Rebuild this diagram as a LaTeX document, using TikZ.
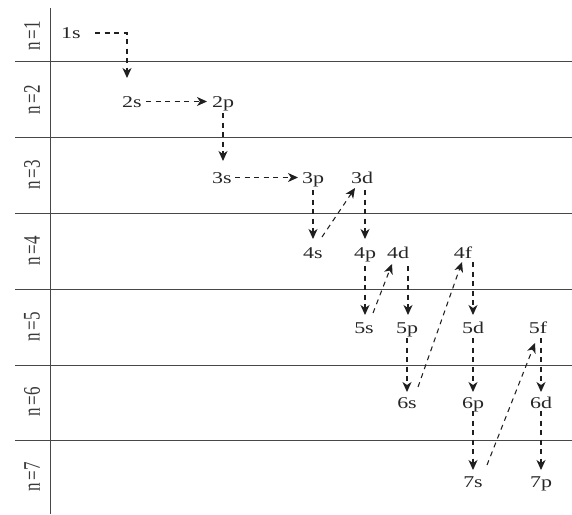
\documentclass[tikz,border=0pt]{standalone}
\usepackage{fontspec}
\setmainfont{Liberation Serif}
\usetikzlibrary{arrows.meta,calc}
\newcommand\orbt[1]{\scalebox{1.33}[1]{#1}}
\newcommand\nlt[1]{\scalebox{1}[1.4]{#1}}
\begin{document}
\begin{tikzpicture}[x=1pt,y=-1pt,
  orb/.style={anchor=base, inner sep=0pt, text=black!85, font=\fontsize{16.5}{20}\selectfont},
  nlab/.style={rotate=90, inner sep=0pt, text=black!78, font=\fontsize{17}{19}\selectfont},
  arr/.style={draw=black!88, line width=1.05pt, dash pattern=on 5pt off 4.5pt, -{Stealth[length=10pt,width=9pt,inset=3pt]}},
  gridline/.style={draw=black!72, line width=0.9pt}]
\useasboundingbox[fill=white] (0,0) rectangle (572,514);
% grid
\coordinate (vt) at (50,8);
\coordinate (vb) at (50,514);
\draw[gridline] (vt) -- (vb);
\foreach \yy/\nm in {61/h1,137/h2,213/h3,289/h4,365/h5,440/h6}{
  \coordinate (\nm l) at (15,\yy);
  \coordinate (\nm r) at (572,\yy);
  \draw[gridline] (\nm l) -- (\nm r);
}
% row labels
\node[nlab] (n1) at (32,36) {\nlt{n\,=1}};
\node[nlab] (n2) at (32,100) {\nlt{n\,=2}};
\node[nlab] (n3) at (32,175) {\nlt{n\,=3}};
\node[nlab] (n4) at (32,251) {\nlt{n\,=4}};
\node[nlab] (n5) at (32,327) {\nlt{n\,=5}};
\node[nlab] (n6) at (32,402) {\nlt{n\,=6}};
\node[nlab] (n7) at (32,477) {\nlt{n\,=7}};
% orbitals
\node[orb] (s1) at (71,38) {\orbt{1s}};
\node[orb] (s2) at (132,107) {\orbt{2s}};
\node[orb] (p2) at (223,107) {\orbt{2p}};
\node[orb] (s3) at (222,183) {\orbt{3s}};
\node[orb] (p3) at (313,183) {\orbt{3p}};
\node[orb] (d3) at (362,183) {\orbt{3d}};
\node[orb] (s4) at (313,258) {\orbt{4s}};
\node[orb] (p4) at (365,258) {\orbt{4p}};
\node[orb] (d4) at (398,258) {\orbt{4d}};
\node[orb] (f4) at (463,258) {\orbt{4f}};
\node[orb] (s5) at (364,333) {\orbt{5s}};
\node[orb] (p5) at (407,333) {\orbt{5p}};
\node[orb] (d5) at (473,333) {\orbt{5d}};
\node[orb] (f5) at (538,333) {\orbt{5f}};
\node[orb] (s6) at (407,408) {\orbt{6s}};
\node[orb] (p6) at (473,408) {\orbt{6p}};
\node[orb] (d6) at (541,408) {\orbt{6d}};
\node[orb] (s7) at (473,487) {\orbt{7s}};
\node[orb] (p7) at (541,487) {\orbt{7p}};
% arrows
\draw[arr] ($(s1.base)+(24,-5)$) -| ($(s2.base)+(-5,-29)$);
\draw[arr] ($(s2.base)+(14,-5.5)$) -- ($(p2.base)+(-16,-5.5)$);
\draw[arr] ($(p2.base)+(0,6)$) -- ($(s3.base)+(1,-22)$);
\draw[arr] ($(s3.base)+(13,-5.5)$) -- ($(p3.base)+(-15,-5.5)$);
\draw[arr] ($(p3.base)+(0,7)$) -- ($(s4.base)+(0,-19)$);
\draw[arr] ($(s4.base)+(9,-21)$) -- ($(d3.base)+(-7,5)$);
\draw[arr] ($(d3.base)+(3,7)$) -- ($(p4.base)+(0,-19)$);
\draw[arr] ($(p4.base)+(0,8)$) -- ($(s5.base)+(1,-18)$);
\draw[arr] ($(s5.base)+(9,-20)$) -- ($(d4.base)+(-6,6)$);
\draw[arr] ($(d4.base)+(10,8)$) -- ($(p5.base)+(1,-18)$);
\draw[arr] ($(f4.base)+(10,4)$) -- ($(d5.base)+(0,-18)$);
\draw[arr] ($(p5.base)+(0,5)$) -- ($(s6.base)+(0,-16)$);
\draw[arr] ($(s6.base)+(11,-21)$) -- ($(f4.base)+(-1,4)$);
\draw[arr] ($(d5.base)+(0,5)$) -- ($(p6.base)+(0,-16)$);
\draw[arr] ($(f5.base)+(3,5)$) -- ($(d6.base)+(0,-16)$);
\draw[arr] ($(p6.base)+(0,3)$) -- ($(s7.base)+(0,-17)$);
\draw[arr] ($(s7.base)+(14,-22)$) -- ($(f5.base)+(-3,10)$);
\draw[arr] ($(d6.base)+(0,3)$) -- ($(p7.base)+(0,-17)$);
\end{tikzpicture}
\end{document}
